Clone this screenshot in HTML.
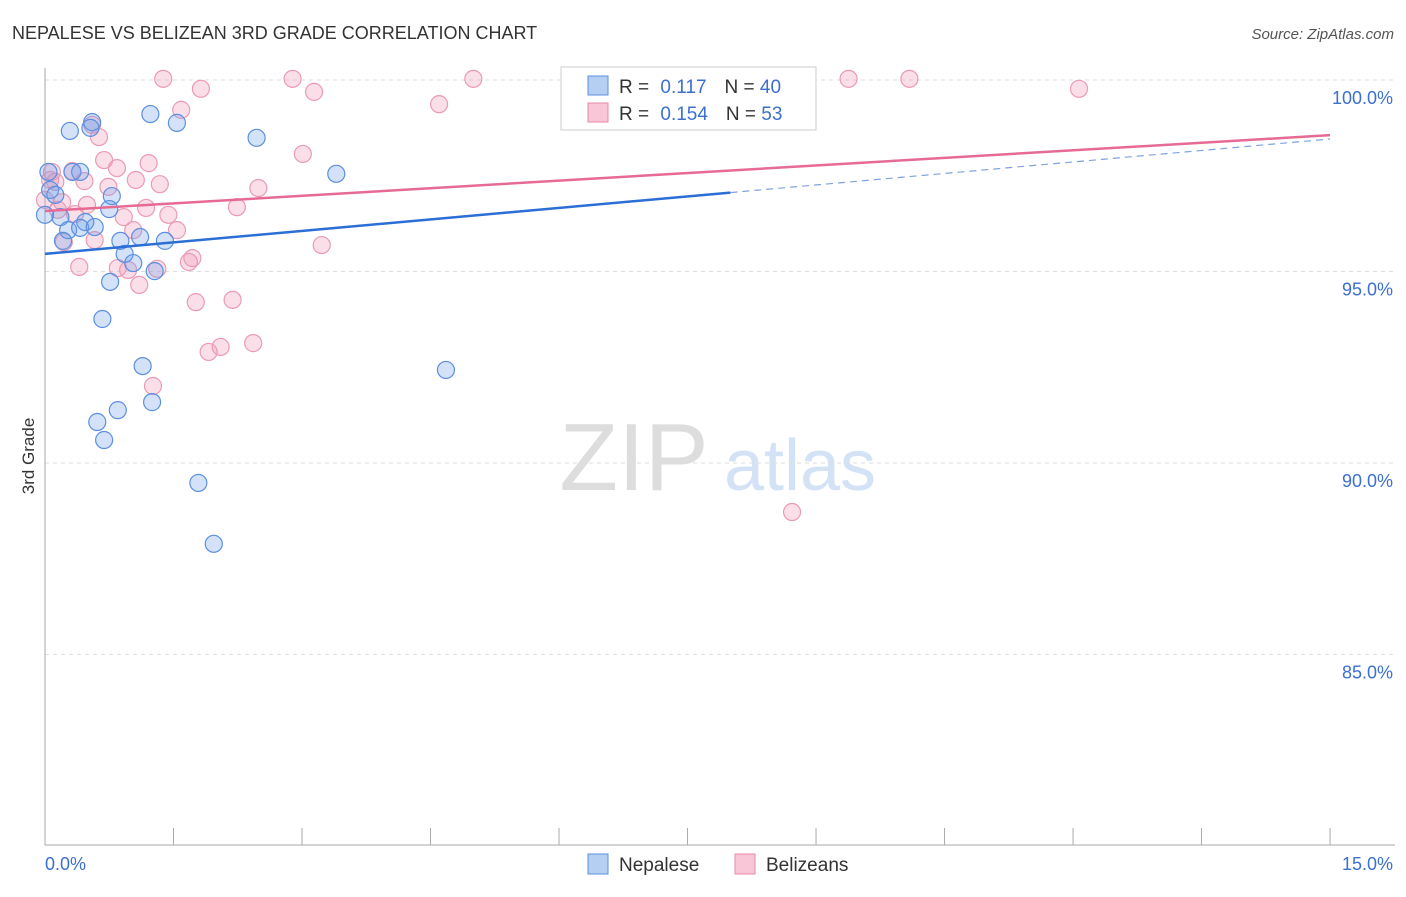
<!DOCTYPE html>
<html><head><meta charset="utf-8"><style>
body{margin:0;background:#fff;font-family:"Liberation Sans",sans-serif}
svg text{font-family:"Liberation Sans",sans-serif}
</style></head><body>
<svg id="c" width="1406" height="892">
<text x="12" y="39" font-size="18" fill="#333">NEPALESE VS BELIZEAN 3RD GRADE CORRELATION CHART</text>
<text x="1394" y="39" font-size="15" fill="#555" text-anchor="end" font-style="italic">Source: ZipAtlas.com</text>
<text x="34" y="456" font-size="17" fill="#333" text-anchor="middle" transform="rotate(-90 34 456)">3rd Grade</text>
<g><text x="634" y="490" font-size="96" fill="#ddd" text-anchor="middle" font-family="Liberation Serif">ZIP</text><text x="800" y="490" font-size="72" fill="#d3e2f5" text-anchor="middle">atlas</text></g>
<g id="grid"></g><g id="marks"></g>
<g>
<rect x="561" y="67" width="255" height="63" fill="#fff" stroke="#ccc"/>
<rect x="588" y="76" width="20" height="19" fill="#b5cff3" stroke="#5b8fe0"/>
<rect x="588" y="103" width="20" height="19" fill="#f8c6d6" stroke="#e88aa6"/>
<text x="619" y="93" font-size="19" fill="#333">R = <tspan fill="#3b6fd0" dx="6">0.117</tspan><tspan dx="18">N = </tspan><tspan fill="#3b6fd0">40</tspan></text>
<text x="619" y="120" font-size="19" fill="#333">R = <tspan fill="#3b6fd0" dx="6">0.154</tspan><tspan dx="18">N = </tspan><tspan fill="#3b6fd0">53</tspan></text>
</g>
<g>
<rect x="588" y="854" width="20" height="20" fill="#b5cff3" stroke="#5b8fe0"/>
<text x="619" y="871" font-size="19" fill="#333">Nepalese</text>
<rect x="735" y="854" width="20" height="20" fill="#f8c6d6" stroke="#e88aa6"/>
<text x="766" y="871" font-size="19" fill="#333">Belizeans</text>
</g>
</svg>
<script>
const yTicks=[100,95,90,85];
const yTickLabels=["100.0%","95.0%","90.0%","85.0%"];
const xTickLabels=["0.0%","15.0%"];
const blueX=[0.29,0.55,1.23,1.54,2.47,3.40,0.04,0.32,0.41,0.53,0.06,0.12,0.78,0.75,0.18,0.47,0.27,0.41,0.58,0.88,1.11,1.40,0.21,0.93,1.03,1.28,0.76,0.67,1.14,4.68,1.25,0.85,0.61,0.69,1.79,1.97,7.41,0.0];
const blueY=[98.67,98.90,99.11,98.88,98.49,97.55,97.60,97.60,97.60,98.75,97.13,97.00,96.97,96.63,96.42,96.29,96.08,96.14,96.16,95.80,95.90,95.80,95.80,95.46,95.22,95.01,94.73,93.76,92.53,92.43,91.59,91.38,91.07,90.60,89.48,87.89,99.43,96.48];
const pinkX=[1.38,1.82,2.89,3.14,5.00,9.38,10.09,12.07,4.60,1.59,0.63,0.55,3.01,0.69,0.84,1.21,0.08,0.32,0.12,0.46,0.74,1.06,1.34,2.49,0.0,0.20,0.49,1.18,2.24,0.35,0.92,1.44,1.03,1.54,0.58,0.22,3.23,0.40,0.85,0.97,1.31,1.68,1.72,1.10,1.76,2.19,1.91,2.05,2.43,1.26,8.72,0.06,0.15];
const pinkY=[100.03,99.77,100.03,99.69,100.03,100.03,100.03,99.77,99.37,99.22,98.51,98.83,98.07,97.91,97.70,97.83,97.60,97.62,97.34,97.36,97.21,97.39,97.28,97.18,96.87,96.81,96.74,96.66,96.68,96.50,96.42,96.48,96.08,96.08,95.82,95.77,95.69,95.12,95.09,95.04,95.07,95.25,95.35,94.65,94.20,94.26,92.90,93.03,93.13,92.01,88.72,97.39,96.61];
const blueLine=[95.46,98.46];
const pinkLine=[96.58,98.56];
const X=v=>45+v*85.67, Y=v=>80+(100-v)*38.3;
const NS="http://www.w3.org/2000/svg";
function mk(t,a,p){const e=document.createElementNS(NS,t);for(const k in a)e.setAttribute(k,a[k]);p.appendChild(e);return e;}
const g=document.getElementById('grid'), m=document.getElementById('marks');
yTicks.forEach((t,i)=>{
 const l=mk('line',{x1:45,x2:1395,y1:Y(t),y2:Y(t),stroke:'#ddd','stroke-dasharray':'4 4'},g);
 
 
 const tx=mk('text',{x:1393,y:Y(t)+24,'font-size':18,fill:'#3b6fd0','text-anchor':'end'},g);
 tx.textContent=yTickLabels[i];
 
 
});
mk('line',{x1:45,x2:45,y1:68,y2:845,stroke:'#aaa'},g);
mk('line',{x1:45,x2:1395,y1:845,y2:845,stroke:'#aaa'},g);
for(let i=0;i<=10;i++){const t=mk('line',{x1:X(i*1.5),x2:X(i*1.5),y1:828,y2:845,stroke:'#aaa'},g);
 
 }
[[0,'start',45],[15,'end',1393]].forEach((a,i)=>{const t=mk('text',{x:a[2],y:870,'font-size':18,fill:'#3b6fd0','text-anchor':a[1]},g);t.textContent=xTickLabels[i];
 
 });
function dots(xs,ys,fill,stroke,name){xs.forEach((x,i)=>{const c=mk('circle',{cx:X(x),cy:Y(ys[i]),r:8.5,fill:fill,stroke:stroke,'stroke-width':1.2},m);
 
 });}
dots(pinkX,pinkY,'rgba(240,150,180,0.3)','#ec9ab3','belizean-point');
dots(blueX,blueY,'rgba(110,160,235,0.3)','#5b8fe0','nepalese-point');
const by=v=>blueLine[0]+(blueLine[1]-blueLine[0])*v/15;
let l=mk('line',{x1:X(0),y1:Y(by(0)),x2:X(8),y2:Y(by(8)),stroke:'#2a6ed6','stroke-width':2.5},m);


l=mk('line',{x1:X(8),y1:Y(by(8)),x2:X(15),y2:Y(by(15)),stroke:'#7fa3dd','stroke-width':1.2,'stroke-dasharray':'7 5'},m);


l=mk('line',{x1:X(0),y1:Y(pinkLine[0]),x2:X(15),y2:Y(pinkLine[1]),stroke:'#e66a93','stroke-width':2.5},m);


</script>
</body></html>
